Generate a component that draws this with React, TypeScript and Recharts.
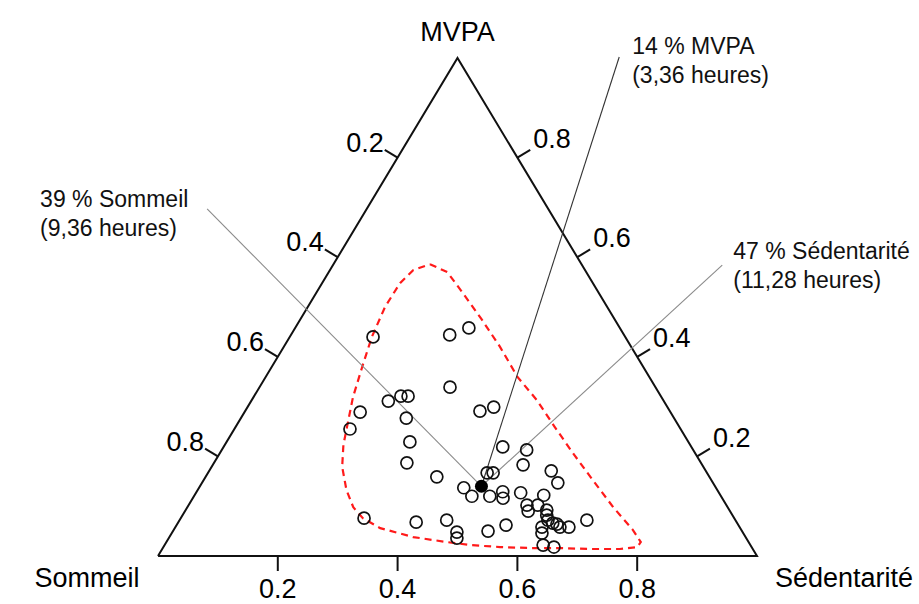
import { ScatterChart, Scatter, XAxis, YAxis } from 'recharts';

// every composition is [sommeil, sedentarite, mvpa] (fractions of the day)
const participants: number[][] = [
  [0.421, 0.139, 0.44], [0.291, 0.265, 0.444], [0.252, 0.29, 0.458], [0.343, 0.318, 0.339],
  [0.46, 0.229, 0.311], [0.434, 0.245, 0.321], [0.422, 0.257, 0.321], [0.518, 0.193, 0.289],
  [0.447, 0.276, 0.277], [0.552, 0.193, 0.255], [0.317, 0.392, 0.291], [0.29, 0.411, 0.299],
  [0.465, 0.306, 0.229], [0.491, 0.322, 0.187], [0.315, 0.466, 0.219], [0.278, 0.509, 0.213],
  [0.299, 0.518, 0.183], [0.258, 0.571, 0.171], [0.259, 0.594, 0.147], [0.455, 0.386, 0.159],
  [0.367, 0.466, 0.167], [0.357, 0.476, 0.167], [0.421, 0.442, 0.137], [0.416, 0.464, 0.12],
  [0.386, 0.494, 0.12], [0.36, 0.511, 0.129], [0.366, 0.518, 0.116], [0.331, 0.542, 0.127],
  [0.295, 0.583, 0.122], [0.333, 0.565, 0.102], [0.337, 0.573, 0.09], [0.315, 0.583, 0.102],
  [0.305, 0.603, 0.092], [0.31, 0.608, 0.082], [0.313, 0.615, 0.072], [0.308, 0.626, 0.066],
  [0.3, 0.642, 0.058], [0.285, 0.657, 0.058], [0.248, 0.68, 0.072], [0.33, 0.612, 0.058],
  [0.336, 0.618, 0.046], [0.346, 0.632, 0.022], [0.33, 0.652, 0.018], [0.424, 0.526, 0.05],
  [0.388, 0.55, 0.062], [0.618, 0.306, 0.076], [0.535, 0.397, 0.068], [0.482, 0.446, 0.072],
  [0.477, 0.475, 0.048], [0.483, 0.481, 0.036], [0.302, 0.634, 0.064],
];

const meanComposition = [0.39, 0.47, 0.14];

// red dashed region, traced clockwise from its top
const regionOutline: number[][] = [
  [0.253, 0.161, 0.586], [0.232, 0.198, 0.57], [0.227, 0.245, 0.528], [0.222, 0.304, 0.474],
  [0.219, 0.361, 0.42], [0.22, 0.421, 0.359], [0.211, 0.476, 0.313], [0.208, 0.533, 0.259],
  [0.204, 0.589, 0.207], [0.198, 0.649, 0.153], [0.191, 0.711, 0.098], [0.181, 0.767, 0.052],
  [0.18, 0.792, 0.028], [0.191, 0.791, 0.018], [0.222, 0.764, 0.014], [0.272, 0.714, 0.014],
  [0.321, 0.663, 0.016], [0.371, 0.613, 0.016], [0.42, 0.562, 0.018], [0.468, 0.51, 0.022],
  [0.504, 0.468, 0.028], [0.555, 0.407, 0.038], [0.601, 0.343, 0.056], [0.62, 0.304, 0.076],
  [0.625, 0.277, 0.098], [0.619, 0.248, 0.133], [0.603, 0.218, 0.179], [0.579, 0.198, 0.223],
  [0.555, 0.186, 0.259], [0.515, 0.166, 0.319], [0.469, 0.151, 0.38], [0.423, 0.137, 0.44],
  [0.371, 0.129, 0.5], [0.322, 0.13, 0.548], [0.287, 0.139, 0.574],
];

const vertexNames = ['Sommeil', 'Sédentarité', 'MVPA'];
const tickValues = [0.2, 0.4, 0.6, 0.8];
const calloutTexts = [
  ['39 % Sommeil', '(9,36 heures)'],
  ['14 % MVPA', '(3,36 heures)'],
  ['47 % Sédentarité', '(11,28 heures)'],
];

// layout only (plot units: base 0..1, apex at y = 1)
const calloutLayout = [
  { end: { x: 0.082, y: 0.697 }, dx: -167, dy: -2, stroke: '#8a8a8a' },
  { end: { x: 0.77, y: 1.002 }, dx: 13, dy: -3, stroke: '#333' },
  { end: { x: 0.942, y: 0.584 }, dx: 11, dy: -6, stroke: '#8a8a8a' },
];
const vertexOffsets = [
  { dx: -71, dy: 31 },
  { dx: 87, dy: 31 },
  { dx: 0, dy: -17 },
];

const FONT = '"Liberation Sans", Arial, Helvetica, sans-serif';

const toXY = (c: number[]) => {
  const t = c[0] + c[1] + c[2];
  return { x: (c[1] + c[2] / 2) / t, y: c[2] / t };
};

const triangle = [[1, 0, 0], [0, 1, 0], [0, 0, 1], [1, 0, 0]].map(toXY);
const region = regionOutline.concat([regionOutline[0]]).map(toXY);
const points = participants.map(toXY);
const meanPoint = [toXY(meanComposition)];

const tickData = tickValues.flatMap((v) => [
  { ...toXY([1 - v, v, 0]), side: 'bottom', v },
  { ...toXY([v, 0, 1 - v]), side: 'left', v },
  { ...toXY([0, 1 - v, v]), side: 'right', v },
]);

const vertexData = vertexNames.map((name, i) => ({
  ...toXY([i === 0 ? 1 : 0, i === 1 ? 1 : 0, i === 2 ? 1 : 0]),
  name,
  i,
}));

const calloutData = calloutTexts.map((lines, i) => ({ ...calloutLayout[i].end, lines, i }));

const Empty = () => <g />;

const OpenCircle = (p: any) => (
  <circle cx={p.cx} cy={p.cy} r={6} fill="none" stroke="#111" strokeWidth={1.7} />
);

const MeanDot = (p: any) => <circle cx={p.cx} cy={p.cy} r={6.5} fill="#000" />;

const TickMark = (p: any) => {
  const { cx, cy, payload } = p;
  const len = 15;
  const dir =
    payload.side === 'bottom' ? [0, 1] : payload.side === 'left' ? [-0.857, -0.515] : [0.857, -0.515];
  const ex = cx + dir[0] * len;
  const ey = cy + dir[1] * len;
  let tx = ex;
  let ty = ey + 27;
  let anchor = 'middle';
  if (payload.side === 'left') {
    tx = ex - 1;
    ty = ey + 2;
    anchor = 'end';
  } else if (payload.side === 'right') {
    tx = ex + 3;
    ty = ey - 2;
    anchor = 'start';
  }
  return (
    <g>
      <line x1={cx} y1={cy} x2={ex} y2={ey} stroke="#111" strokeWidth={2} />
      <text x={tx} y={ty} textAnchor={anchor as any} fontFamily={FONT} fontSize={27} fill="#000">
        {payload.v.toFixed(1)}
      </text>
    </g>
  );
};

const VertexLabel = (p: any) => {
  const off = vertexOffsets[p.payload.i];
  return (
    <text x={p.cx + off.dx} y={p.cy + off.dy} textAnchor="middle" fontFamily={FONT} fontSize={27} fill="#000">
      {p.payload.name}
    </text>
  );
};

const CalloutLabel = (p: any) => {
  const lay = calloutLayout[p.payload.i];
  return (
    <text x={p.cx + lay.dx} y={p.cy + lay.dy} fontFamily={FONT} fontSize={23} fill="#111">
      {p.payload.lines.map((l: string, k: number) => (
        <tspan key={k} x={p.cx + lay.dx} dy={k === 0 ? 0 : 29}>
          {l}
        </tspan>
      ))}
    </text>
  );
};

export default function App() {
  return (
    <div style={{ position: 'absolute', left: 0, top: 0, background: '#fff' }}>
      <ScatterChart width={919} height={604} margin={{ top: 0, right: 0, bottom: 0, left: 0 }}>
        <XAxis type="number" dataKey="x" domain={[-0.2638, 1.2705]} allowDataOverflow hide />
        <YAxis type="number" dataKey="y" domain={[-0.0964, 1.1165]} allowDataOverflow hide />

        <Scatter data={triangle} shape={Empty} line={{ stroke: '#111', strokeWidth: 2 }} isAnimationActive={false} />
        <Scatter data={tickData} shape={TickMark} isAnimationActive={false} />
        <Scatter data={vertexData} shape={VertexLabel} isAnimationActive={false} />

        <Scatter
          data={region}
          shape={Empty}
          line={{ stroke: '#ff1a1a', strokeWidth: 2.2, strokeDasharray: '7 5' }}
          isAnimationActive={false}
        />

        {calloutLayout.map((c, i) => (
          <Scatter
            key={i}
            data={[meanPoint[0], c.end]}
            shape={Empty}
            line={{ stroke: c.stroke, strokeWidth: 1.1 }}
            isAnimationActive={false}
          />
        ))}

        <Scatter data={points} shape={OpenCircle} isAnimationActive={false} />
        <Scatter data={meanPoint} shape={MeanDot} isAnimationActive={false} />
        <Scatter data={calloutData} shape={CalloutLabel} isAnimationActive={false} />
      </ScatterChart>
    </div>
  );
}
